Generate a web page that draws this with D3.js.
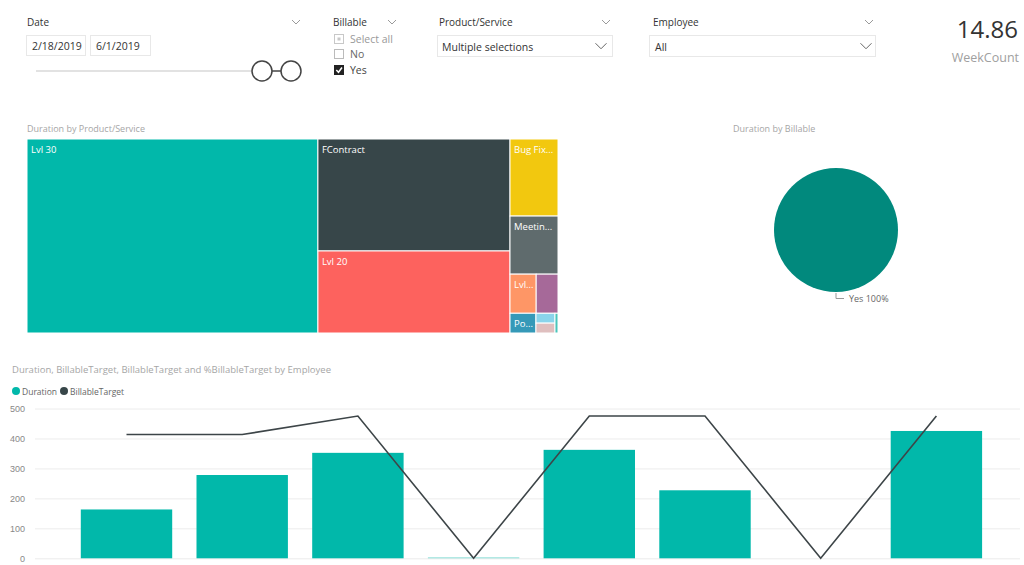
<!DOCTYPE html>
<html><head><meta charset="utf-8">
<script src="https://cdn.jsdelivr.net/npm/d3@7"></script>
<style>
html,body{margin:0;padding:0;background:#fff;overflow:hidden}
svg{display:block;font-family:"Segoe UI","Open Sans",sans-serif}
</style></head>
<body>
<svg id="c" width="1024" height="565"></svg>
<script>
// ---------- data ----------
const employees = ["Noah Walker","Emma Richardson","Ryan Ellis","Luke Brennan","Jacob Fitzgerald","Hannah Wolfe","Mia Carter","Sam Cole"];
const durationValues = [163, 278, 352, 3, 362, 227, 0, 425];
const billableTargetValues = [413, 413, 475, 0, 475, 475, 0, 475];
const yTicks = [0, 100, 200, 300, 400, 500];

const productNames = ["Lvl 30","FContract","Lvl 20","Bug Fix Requests","Meetings & Admin","Lvl 10","Maintenance","Power BI","Support","Training","Travel"];
const productHours = [992, 378, 277, 65, 49, 18, 15, 9, 3.3, 3.3, 1.05];
const productColors = ["#01B8AA","#374649","#FD625E","#F2C80F","#5F6B6D","#FE9666","#A66999","#3599B8","#8AD4EB","#DFBFBF","#4AC5BB"];

const billableNames = ["Yes"];
const billableShare = [100];

const weekCount = "14.86";
const dateFrom = "2/18/2019", dateTo = "6/1/2019";

// ---------- setup ----------
const svg = d3.select("#c");
const GRAY = "#a6a6a6";

function chevron(g, x, y, w, col) {
  g.append("path").attr("d", `M${x - w/2},${y - w/4} L${x},${y + w/4} L${x + w/2},${y - w/4}`)
    .attr("fill","none").attr("stroke",col||"#9a9a9a").attr("stroke-width",1);
}

// ---------- slicers ----------
const sl = svg.append("g");
// Date
sl.append("text").attr("x",27).attr("y",26).attr("font-size",10).attr("fill","#333").text("Date");
chevron(sl, 296, 22, 8);
[[26,85,dateFrom],[90,150,dateTo]].forEach(([a,b,t])=>{
  sl.append("rect").attr("x",a+0.5).attr("y",35.5).attr("width",b-a).attr("height",20).attr("fill","#fff").attr("stroke","#e8e8e8");
  sl.append("text").attr("x",a+6).attr("y",50).attr("font-size",10.5).attr("fill","#333").text(t);
});
sl.append("line").attr("x1",36).attr("x2",252).attr("y1",71).attr("y2",71).attr("stroke","#e2e2e2").attr("stroke-width",2);
sl.append("line").attr("x1",262).attr("x2",291).attr("y1",71).attr("y2",71).attr("stroke","#444").attr("stroke-width",1.5);
[262,291].forEach(cx=>sl.append("circle").attr("cx",cx).attr("cy",71).attr("r",10).attr("fill","#fff").attr("stroke","#444").attr("stroke-width",1.5));

// Billable
sl.append("text").attr("x",333).attr("y",26).attr("font-size",10).attr("fill","#333").text("Billable");
chevron(sl, 392, 22, 8);
sl.append("rect").attr("x",334.5).attr("y",34.5).attr("width",9).attr("height",9).attr("fill","#fff").attr("stroke","#c8c8c8");
sl.append("rect").attr("x",337.5).attr("y",37.5).attr("width",3).attr("height",3).attr("fill","#c8c8c8");
sl.append("text").attr("x",350).attr("y",43).attr("font-size",10.5).attr("fill","#999").text("Select all");
sl.append("rect").attr("x",334.5).attr("y",49.5).attr("width",9).attr("height",9).attr("fill","#fff").attr("stroke","#bbb");
sl.append("text").attr("x",350).attr("y",58).attr("font-size",10.5).attr("fill","#666").text("No");
sl.append("rect").attr("x",334).attr("y",65).attr("width",10).attr("height",10).attr("fill","#222");
sl.append("path").attr("d","M336.3,70 L338.5,72.3 L342,67.5").attr("fill","none").attr("stroke","#fff").attr("stroke-width",1.5);
sl.append("text").attr("x",350).attr("y",74).attr("font-size",10.5).attr("fill","#444").text("Yes");

// Product/Service
sl.append("text").attr("x",439).attr("y",26).attr("font-size",10).attr("fill","#333").text("Product/Service");
chevron(sl, 606, 22, 8);
sl.append("rect").attr("x",437.5).attr("y",35.5).attr("width",175).attr("height",21).attr("fill","#fff").attr("stroke","#e8e8e8");
sl.append("text").attr("x",442).attr("y",51).attr("font-size",10.5).attr("fill","#333").text("Multiple selections");
chevron(sl, 601, 46, 11, "#666");

// Employee
sl.append("text").attr("x",653).attr("y",26).attr("font-size",10).attr("fill","#333").text("Employee");
chevron(sl, 869, 22, 8);
sl.append("rect").attr("x",649.5).attr("y",35.5).attr("width",226).attr("height",21).attr("fill","#fff").attr("stroke","#e8e8e8");
sl.append("text").attr("x",655).attr("y",51).attr("font-size",10.5).attr("fill","#333").text("All");
chevron(sl, 866, 46, 11, "#666");

// Card
sl.append("text").attr("x",1018).attr("y",38).attr("text-anchor","end").attr("font-size",24).attr("fill","#333").text(weekCount);
sl.append("text").attr("x",1019).attr("y",62).attr("text-anchor","end").attr("font-size",12.5).attr("fill","#a0a0a0").text("WeekCount");

// ---------- treemap ----------
svg.append("text").attr("x",27).attr("y",132).attr("font-size",9).attr("fill",GRAY).text("Duration by Product/Service");
const leaf = i => ({ i });
const grp = (dir, ...children) => ({ dir, children });
const treeData = grp("h", leaf(0), grp("v", leaf(1), leaf(2)),
  grp("v", leaf(3), leaf(4), grp("h", leaf(5), leaf(6)), grp("h", leaf(7), grp("v", leaf(8), leaf(9)), leaf(10))));
const root = d3.hierarchy(treeData, d => d.children).sum(d => d.i !== undefined ? productHours[d.i] : 0);
d3.treemap()
  .size([531, 194])
  .tile((node, x0, y0, x1, y1) => (node.data.dir === "h" ? d3.treemapDice : d3.treemapSlice)(node, x0, y0, x1, y1))
  (root);
const tm = svg.append("g").attr("transform","translate(27,139)");
const cells = tm.selectAll("g").data(root.leaves()).join("g");
cells.append("rect")
  .attr("x", d => d.x0).attr("y", d => d.y0)
  .attr("width", d => d.x1 - d.x0).attr("height", d => d.y1 - d.y0)
  .attr("fill", d => productColors[d.data.i]).attr("stroke","#fff").attr("stroke-width",1);
cells.append("text")
  .attr("x", d => d.x0 + 4).attr("y", d => d.y0 + 14)
  .attr("font-size", 9.5).attr("fill","#fff")
  .text(d => productNames[d.data.i])
  .each(function(d){
    const avail = d.x1 - d.x0 - 5.5;
    const full = productNames[d.data.i];
    const t = d3.select(this);
    if (this.getComputedTextLength() <= avail) return;
    let n = full.length - 1;
    while (n >= 2) {
      t.text(full.slice(0, n).trimEnd() + "...");
      if (this.getComputedTextLength() <= avail) return;
      n--;
    }
    t.text("");
  });

// ---------- pie ----------
svg.append("text").attr("x",733).attr("y",132).attr("font-size",9).attr("fill",GRAY).text("Duration by Billable");
const pie = d3.pie().sort(null)(billableShare);
const arc = d3.arc().innerRadius(0).outerRadius(62);
const pg = svg.append("g").attr("transform","translate(836,230)");
pg.selectAll("path").data(pie).join("path").attr("d", arc).attr("fill","#01897D");
pg.append("path").attr("d","M0,63 L0,68.5 L8,68.5").attr("fill","none").attr("stroke","#999").attr("stroke-width",1);
pg.append("text").attr("x",13).attr("y",72).attr("font-size",9).attr("fill","#666")
  .text(billableNames[0] + " " + billableShare[0] + "%");

// ---------- combo chart ----------
svg.append("text").attr("x",12).attr("y",373).attr("font-size",9.5).attr("fill",GRAY)
  .text("Duration, BillableTarget, BillableTarget and %BillableTarget by Employee");
const lg = svg.append("g");
lg.append("circle").attr("cx",16).attr("cy",391).attr("r",4).attr("fill","#01B8AA");
lg.append("text").attr("x",22).attr("y",394.5).attr("font-size",8.5).attr("fill","#666").text("Duration");
lg.append("circle").attr("cx",64).attr("cy",391).attr("r",4).attr("fill","#374649");
lg.append("text").attr("x",70).attr("y",394.5).attr("font-size",8.5).attr("fill","#666").text("BillableTarget");

const x = d3.scaleBand().domain(employees).range([68.65, 994.25]).paddingInner(0.21).paddingOuter(0.105);
const y = d3.scaleLinear().domain([0, 500]).range([558.3, 408.5]);

const yAxis = svg.append("g").attr("transform","translate(35,0)")
  .call(d3.axisLeft(y).tickValues(yTicks).tickSize(-985).tickPadding(10));
yAxis.select(".domain").remove();
yAxis.selectAll("line").attr("stroke","#ececec");
yAxis.selectAll("text").attr("font-size",9).attr("fill","#888").attr("font-family","inherit");

svg.append("g").selectAll("rect").data(employees).join("rect")
  .attr("x", d => x(d)).attr("width", x.bandwidth())
  .attr("y", (d,i) => y(durationValues[i]))
  .attr("height", (d,i) => y(0) - y(durationValues[i]))
  .attr("fill", (d,i) => durationValues[i] < 10 ? "#7fdbd3" : "#01B8AA");

const line = d3.line().x(d => x(d[0]) + x.bandwidth()/2).y(d => y(d[1]));
svg.append("path").datum(employees.map((e,i)=>[e, billableTargetValues[i]]))
  .attr("d", line).attr("fill","none").attr("stroke","#3d4548").attr("stroke-width",1.6);

const xAxis = svg.append("g").attr("transform","translate(0,558.3)")
  .call(d3.axisBottom(x).tickSize(0).tickPadding(11));
xAxis.select(".domain").remove();
xAxis.selectAll("text").attr("font-size",9).attr("fill","#888").attr("font-family","inherit");
</script>
</body></html>
